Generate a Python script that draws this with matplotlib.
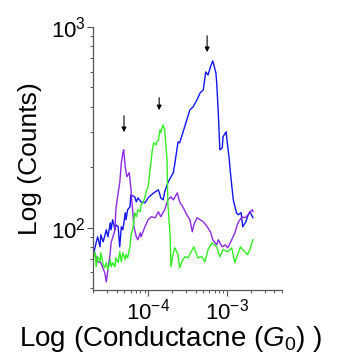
import numpy as np
import matplotlib
matplotlib.use("Agg")
import matplotlib.pyplot as plt

plt.rcParams['font.family'] = ['Liberation Sans', 'DejaVu Sans']
plt.rcParams['mathtext.fontset'] = 'custom'
plt.rcParams['mathtext.rm'] = 'Liberation Sans'
plt.rcParams['mathtext.it'] = 'Liberation Sans:italic'

# log10 of conductance (G0) and log10 of counts
blue_logg = [-4.70, -4.66, -4.64, -4.61, -4.60, -4.57, -4.53, -4.51, -4.48, -4.47,
             -4.45, -4.42, -4.41, -4.38, -4.36, -4.34, -4.32, -4.29, -4.28, -4.26,
             -4.23, -4.22, -4.17, -4.15, -4.13, -4.09, -4.04, -4.00, -3.96, -3.91,
             -3.87, -3.85, -3.84, -3.81, -3.79, -3.75, -3.71, -3.68, -3.66, -3.63,
             -3.62, -3.60, -3.56, -3.51, -3.47, -3.43, -3.38, -3.34, -3.30, -3.27,
             -3.24, -3.21, -3.18, -3.14, -3.13, -3.11, -3.09, -3.06, -3.05, -3.01,
             -3.00, -2.97, -2.96, -2.92, -2.88, -2.86, -2.82, -2.80, -2.76, -2.73,
             -2.71, -2.67]
blue_logc = [1.856, 1.925, 1.955, 1.905, 1.965, 1.930, 1.990, 1.955, 2.025, 1.990,
             2.040, 1.990, 2.015, 2.005, 1.905, 2.005, 1.990, 2.075, 2.040, 2.090,
             2.104, 2.164, 2.154, 2.129, 2.149, 2.129, 2.124, 2.149, 2.164, 2.179,
             2.189, 2.164, 2.149, 2.139, 2.179, 2.224, 2.254, 2.274, 2.323, 2.403,
             2.428, 2.423, 2.473, 2.537, 2.587, 2.602, 2.637, 2.672, 2.687, 2.776,
             2.761, 2.801, 2.831, 2.771, 2.721, 2.572, 2.388, 2.398, 2.453, 2.478,
             2.438, 2.338, 2.289, 2.139, 2.075, 2.065, 2.075, 2.005, 2.030, 2.065,
             2.080, 2.050]

purple_logg = [-4.67, -4.64, -4.60, -4.55, -4.53, -4.51, -4.48, -4.47, -4.42, -4.41,
               -4.38, -4.36, -4.34, -4.32, -4.31, -4.29, -4.27, -4.24, -4.22, -4.20,
               -4.18, -4.15, -4.13, -4.10, -4.09, -4.04, -4.00, -3.96, -3.91, -3.87,
               -3.84, -3.79, -3.75, -3.71, -3.68, -3.63, -3.60, -3.56, -3.51, -3.47,
               -3.44, -3.42, -3.38, -3.34, -3.30, -3.25, -3.21, -3.18, -3.13, -3.11,
               -3.06, -3.02, -2.99, -2.94, -2.90, -2.86, -2.81, -2.77, -2.73, -2.68,
               -2.67]
purple_logc = [1.866, 1.831, 1.826, 1.776, 1.731, 1.791, 1.876, 1.925, 1.990, 2.090,
               2.174, 2.224, 2.323, 2.373, 2.388, 2.303, 2.254, 2.274, 2.204, 2.104,
               2.005, 1.955, 1.940, 1.975, 1.955, 2.005, 2.040, 2.055, 2.050, 2.080,
               2.055, 2.090, 2.139, 2.154, 2.139, 2.174, 2.129, 2.104, 2.065, 2.040,
               1.980, 2.015, 2.050, 2.040, 2.030, 2.005, 1.980, 1.940, 1.915, 1.940,
               1.905, 1.915, 1.900, 1.940, 1.975, 2.025, 2.055, 2.050, 2.065, 2.090,
               2.080]

green_logg = [-4.70, -4.67, -4.66, -4.64, -4.61, -4.60, -4.57, -4.55, -4.53, -4.51,
              -4.48, -4.47, -4.45, -4.42, -4.41, -4.38, -4.36, -4.34, -4.32, -4.29,
              -4.28, -4.26, -4.23, -4.22, -4.19, -4.17, -4.15, -4.13, -4.10, -4.09,
              -4.06, -4.04, -4.03, -4.00, -3.98, -3.96, -3.95, -3.93, -3.90, -3.89,
              -3.87, -3.85, -3.84, -3.81, -3.79, -3.76, -3.75, -3.72, -3.71, -3.68,
              -3.66, -3.62, -3.60, -3.56, -3.53, -3.49, -3.44, -3.42, -3.37, -3.32,
              -3.28, -3.24, -3.19, -3.13, -3.09, -3.05, -2.99, -2.94, -2.90, -2.83,
              -2.80, -2.74, -2.71, -2.67]
green_logc = [1.841, 1.876, 1.806, 1.856, 1.831, 1.876, 1.816, 1.801, 1.826, 1.791,
              1.841, 1.806, 1.826, 1.806, 1.851, 1.826, 1.881, 1.831, 1.876, 1.841,
              1.866, 1.851, 1.905, 1.955, 2.005, 2.075, 2.055, 2.090, 2.080, 2.114,
              2.129, 2.154, 2.174, 2.204, 2.274, 2.338, 2.378, 2.423, 2.413, 2.428,
              2.438, 2.488, 2.473, 2.512, 2.488, 2.338, 2.124, 1.955, 1.806, 1.876,
              1.900, 1.866, 1.801, 1.841, 1.856, 1.851, 1.891, 1.905, 1.851, 1.856,
              1.831, 1.891, 1.925, 1.905, 1.856, 1.891, 1.881, 1.900, 1.826, 1.905,
              1.891, 1.866, 1.891, 1.940]

# arrows marking the peaks: (conductance, arrow tail count, arrow tip count)
arrow_g = [4.94e-5, 1.38e-4, 5.6e-4]
arrow_top = [373, 459, 933]
arrow_tip = [290, 373, 726]

fig = plt.figure(figsize=(3.37, 3.58), dpi=100)
ax = fig.add_axes([0.276, 0.19, 0.561, 0.7346])

ax.plot(10 ** np.array(blue_logg), 10 ** np.array(blue_logc), color='#1414f0', lw=1.0)
ax.plot(10 ** np.array(purple_logg), 10 ** np.array(purple_logc), color='#8a2be2', lw=1.0)
ax.plot(10 ** np.array(green_logg), 10 ** np.array(green_logc), color='#33ee22', lw=1.0)

for g, top, tip in zip(arrow_g, arrow_top, arrow_tip):
    ax.annotate('', xy=(g, tip), xytext=(g, top),
                arrowprops=dict(arrowstyle='-|>', color='k', lw=0.8, mutation_scale=7))

ax.set_xscale('log')
ax.set_yscale('log')
ax.set_xlim(2e-5, 5e-3)
ax.set_ylim(49, 1000)

for s in ['top', 'right']:
    ax.spines[s].set_visible(False)
for s in ['left', 'bottom']:
    ax.spines[s].set_color('#555555')
    ax.spines[s].set_linewidth(0.9)

ax.tick_params(which='major', direction='out', length=4, width=0.8, color='#555555',
               labelsize=16, pad=1)
ax.tick_params(which='minor', direction='out', length=2.2, width=0.7, color='#555555')
ax.tick_params(axis='x', which='major', pad=2)

ax.set_ylabel('Log (Counts)', fontsize=19)
ax.set_xlabel(r'Log (Conductacne ($G_0$) )', fontsize=20)
ax.yaxis.set_label_coords(-0.27, 0.5)
ax.xaxis.set_label_coords(0.41, -0.128)

plt.savefig('out.png', dpi=100)
plt.close()
